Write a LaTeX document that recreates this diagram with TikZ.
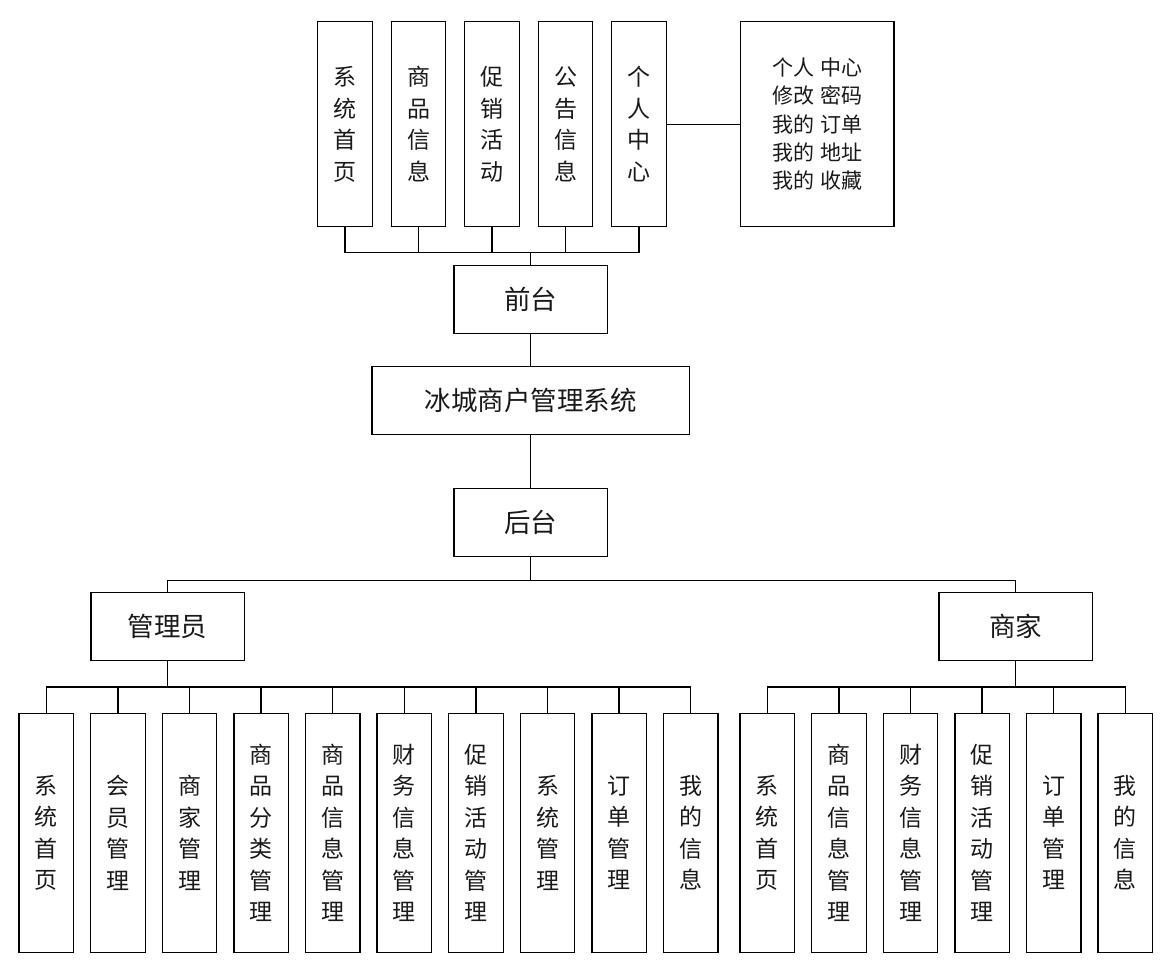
\documentclass[tikz,border=0pt]{standalone}
\usepackage{fontspec}
\newfontfamily\cjk{Noto Sans CJK SC}
\usepackage{xcolor}
\usepackage{tikz}
\usetikzlibrary{positioning, calc}
\definecolor{border}{RGB}{0,0,0}
\definecolor{textmain}{RGB}{25,25,25}
\tikzset{
    column/.style={rectangle, draw=border, line width=1.3pt, outer sep=0pt, inner sep=0pt, minimum width=54.5pt, minimum height=239pt, align=center, text=textmain, font=\cjk\fontsize{23}{31.5}\selectfont},
    topcolumn/.style={column, minimum height=205pt},
    block/.style={rectangle, draw=border, line width=1.3pt, outer sep=0pt, minimum width=153.3pt, minimum height=68pt, text=textmain, font=\cjk\fontsize{26.5}{30}\selectfont},
    listbox/.style={block, minimum height=205pt, align=center, font=\cjk\fontsize{21}{28.3}\selectfont},
    link/.style={line width=1.3pt, color=border}
}

\begin{document}
\begin{tikzpicture}[x=1pt, y=-1pt]
    \useasboundingbox (0,0) rectangle (1164,976);

    % Front nodes
    \node (home) [topcolumn] at (345,124.2) {系\\统\\首\\页};
    \node (goods) [topcolumn, right=19pt of home] {商\\品\\信\\息};
    \node (promo) [topcolumn, right=19pt of goods] {促\\销\\活\\动};
    \node (notice) [topcolumn, right=19pt of promo] {公\\告\\信\\息};
    \node (center) [topcolumn, right=19pt of notice] {个\\人\\中\\心};
    \node (mine) [listbox, right=74.3pt of center] {个人\hspace{0.3em}中心\\修改\hspace{0.3em}密码\\我的\hspace{0.3em}订单\\我的\hspace{0.3em}地址\\我的\hspace{0.3em}收藏};

    % Main nodes
    \node (front) [block] at (530.7,299.3) {前台};
    \node (system) [block, minimum width=317.7pt] at (530.7,400.2) {冰城商户管理系统};
    \node (back) [block] at (530.7,522.5) {后台};
    \node (admin) [block] at (167.5,626.7) {管理员};
    \node (shop) [block] at (1015.7,626.7) {商家};

    % Admin nodes
    \node (ahome) [column] at (46.3,832.8) {系\\统\\首\\页};
    \node (amember) [column, right=17.1pt of ahome] {会\\员\\管\\理};
    \node (ashop) [column, right=17.1pt of amember] {商\\家\\管\\理};
    \node (acat) [column, right=17.1pt of ashop] {商\\品\\分\\类\\管\\理};
    \node (agoods) [column, right=17.1pt of acat] {商\\品\\信\\息\\管\\理};
    \node (afinance) [column, right=17.1pt of agoods] {财\\务\\信\\息\\管\\理};
    \node (apromo) [column, right=17.1pt of afinance] {促\\销\\活\\动\\管\\理};
    \node (asys) [column, right=17.1pt of apromo] {系\\统\\管\\理};
    \node (aorder) [column, right=17.1pt of asys] {订\\单\\管\\理};
    \node (ainfo) [column, right=17.1pt of aorder] {我\\的\\信\\息};

    % Shop nodes
    \node (shome) [column] at (767.3,832.8) {系\\统\\首\\页};
    \node (sgoods) [column, right=17.1pt of shome] {商\\品\\信\\息\\管\\理};
    \node (sfinance) [column, right=17.1pt of sgoods] {财\\务\\信\\息\\管\\理};
    \node (spromo) [column, right=17.1pt of sfinance] {促\\销\\活\\动\\管\\理};
    \node (sorder) [column, right=17.1pt of spromo] {订\\单\\管\\理};
    \node (sinfo) [column, right=17.1pt of sorder] {我\\的\\信\\息};

    % Bus points
    \coordinate (frontbus) at (530.7,252.3);
    \coordinate (backbus) at (530.7,580.7);
    \coordinate (adminbus) at (167.5,687);
    \coordinate (shopbus) at (1015.7,687);

    % Lines
    \draw [link] (home.south) |- (frontbus);
    \draw [link] (goods.south) |- (frontbus);
    \draw [link] (promo.south) |- (frontbus);
    \draw [link] (notice.south) |- (frontbus);
    \draw [link] (center.south) |- (frontbus);
    \draw [link] (frontbus) -- (front.north);
    \draw [link] (center.east) -- (mine.west);
    \draw [link] (front.south) -- (system.north);
    \draw [link] (system.south) -- (back.north);
    \draw [link] (back.south) -- (backbus);
    \draw [link] (backbus) -| (admin.north);
    \draw [link] (backbus) -| (shop.north);

    \draw [link] (admin.south) -- (adminbus);
    \draw [link] (adminbus) -| (ahome.north);
    \draw [link] (adminbus) -| (amember.north);
    \draw [link] (adminbus) -| (ashop.north);
    \draw [link] (adminbus) -| (acat.north);
    \draw [link] (adminbus) -| (agoods.north);
    \draw [link] (adminbus) -| (afinance.north);
    \draw [link] (adminbus) -| (apromo.north);
    \draw [link] (adminbus) -| (asys.north);
    \draw [link] (adminbus) -| (aorder.north);
    \draw [link] (adminbus) -| (ainfo.north);

    \draw [link] (shop.south) -- (shopbus);
    \draw [link] (shopbus) -| (shome.north);
    \draw [link] (shopbus) -| (sgoods.north);
    \draw [link] (shopbus) -| (sfinance.north);
    \draw [link] (shopbus) -| (spromo.north);
    \draw [link] (shopbus) -| (sorder.north);
    \draw [link] (shopbus) -| (sinfo.north);
\end{tikzpicture}
\end{document}
